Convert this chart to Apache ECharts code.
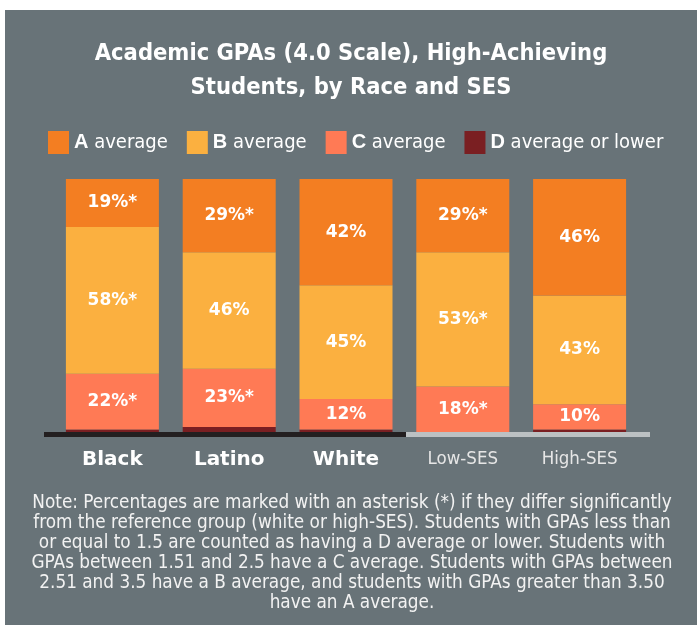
<!DOCTYPE html>
<html>
<head>
<meta charset="utf-8">
<script src="https://cdn.jsdelivr.net/npm/echarts@6/dist/echarts.min.js"></script>
<style>
  html, body { margin: 0; padding: 0; background: #fff; }
  #wrap { position: relative; width: 697px; height: 625px; background: #fff; }
  #chart { position: absolute; left: 5px; top: 10px; width: 692px; height: 615px; }
</style>
</head>
<body>
<div id="wrap"><div id="chart"></div></div>
<script>
// Shares of high-achieving students by GPA band (percent)
const categories = ['Black', 'Latino', 'White', 'Low-SES', 'High-SES'];
const aAvg = [19, 29, 42, 29, 46];
const bAvg = [58, 46, 45, 53, 43];
const cAvg = [22, 23, 12, 18, 10];
const dAvg = [1, 2, 1, 0, 1];
// asterisk = differs significantly from reference group
const aSig = [true, true, false, true, false];
const bSig = [true, false, false, true, false];
const cSig = [true, true, false, true, false];

const noteText = 'Note: Percentages are marked with an asterisk (*) if they differ significantly\n' +
  'from the reference group (white or high-SES). Students with GPAs less than\n' +
  'or equal to 1.5 are counted as having a D average or lower. Students with\n' +
  'GPAs between 1.51 and 2.5 have a C average. Students with GPAs between\n' +
  '2.51 and 3.5 have a B average, and students with GPAs greater than 3.50\n' +
  'have an A average.';

const narrow = '"Liberation Sans Narrow", "DejaVu Sans Condensed", sans-serif';
const wide = '"DejaVu Sans", sans-serif';
const arial = '"Liberation Sans", Arial, sans-serif';

function seg(name, data, sig, color, showLabel) {
  return {
    name: name,
    type: 'bar',
    stack: 'gpa',
    barWidth: 93,
    data: data,
    itemStyle: { color: color },
    label: {
      show: showLabel,
      position: 'inside',
      color: '#fff',
      fontFamily: wide,
      fontWeight: 'bold',
      fontSize: 17,
      formatter: (p) => p.value + '%' + (sig && sig[p.dataIndex] ? '*' : '')
    },
    emphasis: { disabled: true }
  };
}

const chart = echarts.init(document.getElementById('chart'));
chart.setOption({
  backgroundColor: '#687378',
  animation: false,
  title: {
    text: 'Academic GPAs (4.0 Scale), High-Achieving\nStudents, by Race and SES',
    left: 'center',
    top: 22,
    textStyle: {
      color: '#fff', fontFamily: narrow, fontWeight: 'bold',
      fontSize: 23.5, lineHeight: 34
    }
  },
  legend: {
    data: ['A average', 'B average', 'C average', 'D average or lower'],
    top: 116,
    left: 38,
    itemWidth: 21,
    itemHeight: 23,
    itemGap: 19,
    icon: 'rect',
    selectedMode: false,
    formatter: (name) => '{k|' + name[0] + '}{n|' + name.slice(1) + '}',
    textStyle: {
      color: '#fff',
      rich: {
        k: { fontFamily: arial, fontWeight: 'bold', fontSize: 20, color: '#fff' },
        n: { fontFamily: narrow, fontSize: 20, color: '#fff' }
      }
    }
  },
  grid: { left: 49, right: 59, top: 169, bottom: 193 },
  xAxis: {
    type: 'category',
    data: categories.map((c, i) => ({
      value: c,
      textStyle: i < 3
        ? { color: '#fff', fontFamily: wide, fontWeight: 'bold', fontSize: 20 }
        : { color: '#e6e6e6', fontFamily: narrow, fontWeight: 'normal', fontSize: 18.5 }
    })),
    axisLine: { show: false },
    axisTick: { show: false },
    axisLabel: { margin: 18 }
  },
  yAxis: { type: 'value', min: 0, max: 100, show: false },
  graphic: [
    { type: 'rect', shape: { x: 39, y: 422, width: 362, height: 5 }, style: { fill: '#231f20' }, z: 10 },
    { type: 'rect', shape: { x: 401, y: 422, width: 244, height: 5 }, style: { fill: '#bcc1c3' }, z: 10 },
    {
      type: 'text', x: 347, y: 483, z: 10,
      style: {
        text: noteText, fill: '#f2f2f2', align: 'center', verticalAlign: 'top',
        font: '18.8px "Liberation Sans Narrow", "DejaVu Sans Condensed", sans-serif',
        lineHeight: 20
      }
    }
  ],
  series: [
    seg('D average or lower', dAvg, null, '#7a1f22', false),
    seg('C average', cAvg, cSig, '#ff7a55', true),
    seg('B average', bAvg, bSig, '#fbb040', true),
    seg('A average', aAvg, aSig, '#f37e22', true)
  ]
});
</script>
</body>
</html>
